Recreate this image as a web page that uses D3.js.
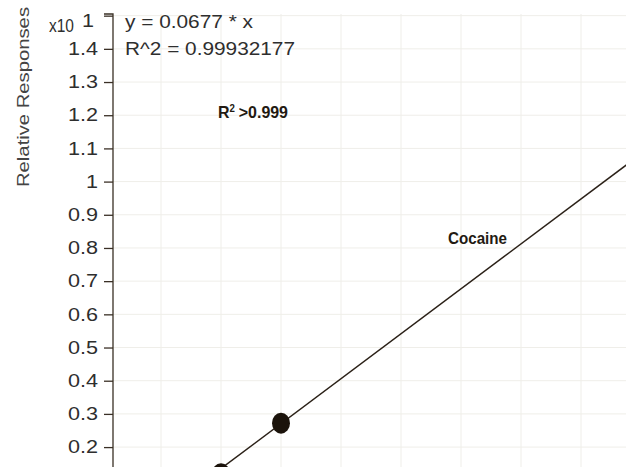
<!DOCTYPE html>
<html><head><meta charset="utf-8">
<script src="https://cdn.jsdelivr.net/npm/d3@7"></script>
<style>body{margin:0;background:#fff}svg{display:block}</style>
</head><body>
<script>
// Data
const yTicks = [0.2,0.3,0.4,0.5,0.6,0.7,0.8,0.9,1.0,1.1,1.2,1.3,1.4,1.5];
const yTickLabels = ["0.2","0.3","0.4","0.5","0.6","0.7","0.8","0.9","1","1.1","1.2","1.3","1.4","1"];
const xGridValues = [0,20,40,60,80,100,120,140];
const pointX = [20, 40];
const pointY = [1.2, 2.72];      // relative responses (actual)
const slope = 0.0677;
const fitX = [0, 160];
const equationLines = ["y = 0.0677 * x", "R^2 = 0.99932177"];
const exponentLabel = "x10";
const yAxisTitle = "Relative Responses";
const compoundLabel = "Cocaine";
const r2Label = ">0.999";

const W = 626, H = 467;
const svg = d3.select("body").append("svg").attr("width", W).attr("height", H);

const x = d3.scaleLinear().domain([-16, 155]).range([113, 626]);
const y = d3.scaleLinear().domain([0.14, 1.505]).range([467, 14]);

const font = "'Liberation Sans Narrow','Arial Narrow','Liberation Sans',Arial,sans-serif";
function stretch(sel, f){ sel.each(function(){ const n=this.getComputedTextLength(); d3.select(this).attr("textLength", n*f).attr("lengthAdjust","spacingAndGlyphs");}); }

// grid
svg.append("g").selectAll("line").data(xGridValues).join("line")
  .attr("x1", d=>x(d)).attr("x2", d=>x(d)).attr("y1", 14).attr("y2", H)
  .attr("stroke", "#efeee9").attr("stroke-width", 1);
svg.append("g").selectAll("line").data(yTicks).join("line")
  .attr("x1", 113).attr("x2", W).attr("y1", d=>y(d)).attr("y2", d=>y(d))
  .attr("stroke", "#efeee9").attr("stroke-width", 1);

// fit line
svg.append("defs").append("clipPath").attr("id","clip").append("rect")
  .attr("x",113).attr("y",14).attr("width",W-113).attr("height",H-14);
const line = d3.line().x(d=>x(d)).y(d=>y(d*slope/10));
svg.append("path").datum(fitX).attr("d", line).attr("clip-path","url(#clip)")
  .attr("fill","none").attr("stroke","#2b2118").attr("stroke-width",1.5);

// points
svg.append("g").attr("clip-path","url(#clip)").selectAll("ellipse").data(pointX).join("ellipse")
  .attr("cx", d=>x(d)).attr("cy", (d,i)=>y(pointY[i]/10)).attr("rx", 9).attr("ry", 10.5)
  .attr("fill", "#1b130b");

// y axis
const axis = d3.axisLeft(y).tickValues(yTicks).tickSize(9).tickPadding(6)
  .tickFormat((d,i)=>yTickLabels[i]);
const gA = svg.append("g").attr("transform","translate(113,0)").call(axis);
gA.select(".domain").attr("d", `M-9,${y(1.505)}H0V${H}`).attr("stroke","#3a3026").attr("stroke-width",1.3);
gA.selectAll(".tick line").attr("stroke","#3a3026").attr("stroke-width",1.3);
gA.selectAll(".tick text").attr("font-family", font).attr("font-size", 18).attr("fill","#2e2e2e")
  .attr("x", -15).call(stretch, 1.2);
gA.selectAll(".tick").filter(d=>d===1.5).select("text").attr("dy","0.6em").attr("x",-19);

// exponent
svg.append("text").attr("x", 49).attr("y", 32).attr("font-family", font).attr("font-size", 17.5)
  .attr("fill","#2e2e2e").text(exponentLabel).attr("textLength", 25).attr("lengthAdjust","spacingAndGlyphs");

// axis title
svg.append("text").attr("transform","translate(29,97) rotate(-90)").attr("text-anchor","middle")
  .attr("font-family", font).attr("font-size", 16).attr("fill","#444").text(yAxisTitle)
  .attr("textLength", 180).attr("lengthAdjust","spacingAndGlyphs");

// equation
const eqW = [128, 170];
svg.selectAll("text.eq").data(equationLines).join("text").attr("class","eq")
  .attr("x", 125).attr("y", (d,i)=>28+i*27).attr("font-family", font).attr("font-size", 17.5)
  .attr("fill","#2e2e2e").text(d=>d).attr("textLength",(d,i)=>eqW[i]).attr("lengthAdjust","spacingAndGlyphs");

// annotations
const r2 = svg.append("text").attr("x", 218).attr("y", 118).attr("font-family", font)
  .attr("font-size", 16.5).attr("font-weight","bold").attr("fill","#231a12");
r2.append("tspan").text("R");
r2.append("tspan").attr("font-size", 10).attr("dy", -6).text("2");
r2.append("tspan").attr("dy", 6).attr("dx", 4).text(r2Label);
r2.attr("textLength", 70).attr("lengthAdjust","spacingAndGlyphs");

svg.append("text").attr("x", 448).attr("y", 244).attr("font-family", font)
  .attr("font-size", 17).attr("font-weight","bold").attr("fill","#231a12")
  .text(compoundLabel).attr("textLength", 59).attr("lengthAdjust","spacingAndGlyphs");
</script>
</body></html>
